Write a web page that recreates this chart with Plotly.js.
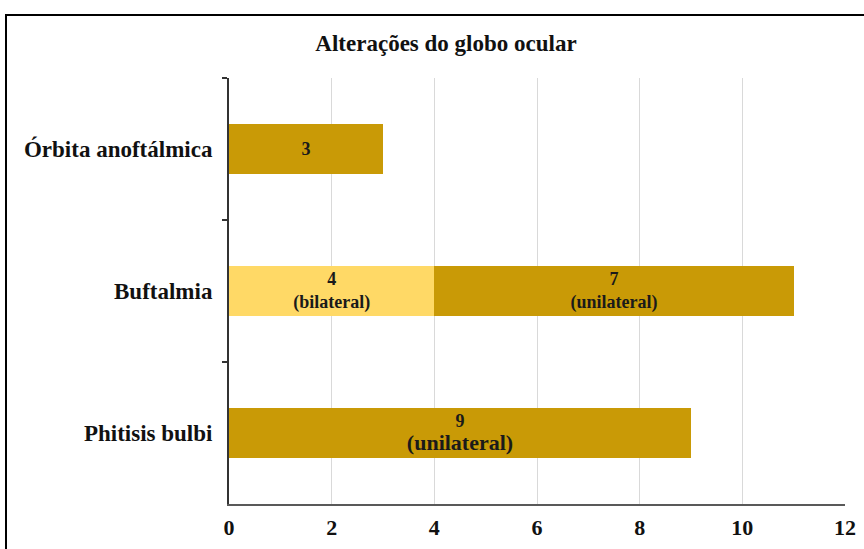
<!DOCTYPE html>
<html>
<head>
<meta charset="utf-8">
<script src="https://cdn.plot.ly/plotly-3.0.1.min.js"></script>
<style>
  html, body { margin: 0; padding: 0; background: #fff; overflow: hidden; }
  #chart { width: 864px; height: 549px; }
  #frame { position: absolute; left: 5px; top: 14px; width: 900px; height: 600px;
           border: 2.5px solid #000; pointer-events: none; }
</style>
</head>
<body>
<div id="chart"></div>
<div id="frame"></div>
<script>
const categories = ['Órbita anoftálmica', 'Buftalmia', 'Phitisis bulbi'];
const bilateral = [0, 4, 0];
const unilateral = [3, 7, 9];
const bilateralNotes = ['', '(bilateral)', ''];
const unilateralNotes = ['', '(unilateral)', '(unilateral)'];
const xTicks = [0, 2, 4, 6, 8, 10, 12];

const serif = 'Liberation Serif, Times New Roman, serif';

function makeText(vals, notes, big) {
  return vals.map((v, i) => {
    if (!v) return '';
    if (!notes[i]) return String(v);
    if (big[i]) return '<span style="font-size:18px">' + v + '</span><br><span style="font-size:22px">' + notes[i] + '</span>';
    return v + '<br>' + notes[i];
  });
}

const traces = [
  {
    type: 'bar', orientation: 'h', name: 'bilateral',
    y: categories, x: bilateral,
    marker: { color: '#FFD966' },
    text: makeText(bilateral, bilateralNotes, [false, false, false]),
    textposition: 'inside', insidetextanchor: 'middle', textangle: 0,
    constraintext: 'none',
    textfont: { family: serif, size: 18, color: '#1a1a1a', weight: 'bold' },
    hoverinfo: 'none'
  },
  {
    type: 'bar', orientation: 'h', name: 'unilateral',
    y: categories, x: unilateral,
    marker: { color: '#C99A06' },
    text: makeText(unilateral, unilateralNotes, [false, false, true]),
    textposition: 'inside', insidetextanchor: 'middle', textangle: 0,
    constraintext: 'none',
    textfont: { family: serif, size: 18, color: '#1a1a1a', weight: 'bold' },
    hoverinfo: 'none'
  }
];

const layout = {
  width: 864, height: 549,
  margin: { l: 229, r: 19, t: 78, b: 45 },
  paper_bgcolor: '#fff', plot_bgcolor: '#fff',
  barmode: 'stack', bargap: 0.65,
  showlegend: false,
  title: {
    text: '<b>Alterações do globo ocular</b>',
    font: { family: serif, size: 23, color: '#111' },
    x: 446 / 864, xanchor: 'center', xref: 'container',
    y: 1 - 43 / 549, yanchor: 'middle', yref: 'container'
  },
  xaxis: {
    range: [0, 12], tickvals: xTicks, ticktext: xTicks.map(String),
    showgrid: true, gridcolor: '#d9d9d9', gridwidth: 1,
    zeroline: false, showline: true, linecolor: '#595959', linewidth: 2,
    ticks: '', ticklabelstandoff: 3,
    tickfont: { family: serif, size: 22, color: '#111', weight: 'bold' },
    fixedrange: true
  },
  yaxis: {
    type: 'category', categoryorder: 'array', categoryarray: categories,
    autorange: 'reversed',
    showgrid: false, zeroline: false,
    showline: true, linecolor: '#333', linewidth: 2,
    ticks: 'outside', tickson: 'boundaries', ticklen: 5, tickwidth: 2, tickcolor: '#333',
    ticklabelstandoff: 10,
    tickfont: { family: serif, size: 23, color: '#111', weight: 'bold' },
    fixedrange: true
  }
};

Plotly.newPlot('chart', traces, layout, { displayModeBar: false, staticPlot: true });
</script>
</body>
</html>
